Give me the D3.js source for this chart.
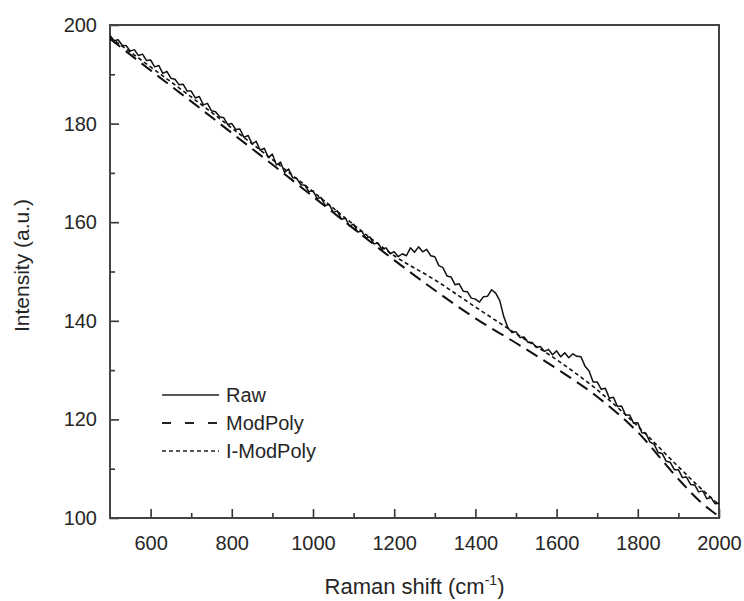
<!DOCTYPE html>
<html>
<head>
<meta charset="utf-8">
<script src="https://cdn.jsdelivr.net/npm/d3@7"></script>
<style>
  body { margin: 0; background: #fff; }
  svg { display: block; font-family: "Liberation Sans", Arial, sans-serif; }
  .tick text { fill: #262626; }
</style>
</head>
<body>
<div id="chart"></div>
<script>
// Raw spectrum, sampled every 10 cm-1 from 500 to 2000
const rawStart = 500, rawStep = 10;
const rawValues = [
  197.9, 196.8, 197.0, 195.9, 195.8, 194.7, 195.0, 193.8, 194.1, 192.8,
  192.9, 191.5, 191.8, 190.2, 190.6, 189.2, 189.0, 187.9, 188.0, 186.6,
  186.6, 185.2, 185.5, 183.8, 184.1, 182.6, 182.4, 181.4, 181.2, 179.8,
  180.0, 178.8, 178.9, 177.2, 177.6, 175.9, 176.4, 174.6, 175.0, 173.1,
  173.8, 171.6, 172.2, 170.1, 170.8, 169.0, 168.9, 167.6, 167.5, 166.2,
  166.4, 164.8, 165.0, 163.4, 163.6, 162.0, 162.3, 160.6, 160.8, 159.2,
  159.6, 158.0, 158.2, 156.8, 157.0, 155.6, 155.8, 154.5, 154.8, 153.6,
  154.0, 153.0, 153.6, 153.2, 154.8, 153.9, 155.0, 154.0, 154.5, 153.2,
  153.0, 151.2, 150.8, 149.1, 148.9, 147.3, 147.5, 146.0, 145.9, 144.6,
  144.4, 143.8, 144.9, 145.0, 146.3, 145.6, 144.1, 140.8, 138.6, 137.6,
  137.8, 136.6, 136.7, 135.6, 135.6, 134.6, 134.8, 133.8, 134.2, 133.1,
  133.9, 132.7, 133.5, 132.5, 133.3, 132.8, 132.7, 130.8, 129.8, 127.6,
  127.6, 126.1, 126.3, 124.3, 124.5, 122.6, 122.7, 120.9, 120.9, 119.2,
  119.3, 117.3, 117.2, 115.4, 115.0, 113.3, 113.1, 111.5, 111.3, 109.8,
  109.8, 108.2, 108.3, 106.8, 106.7, 105.3, 105.5, 103.9, 104.2, 102.9,
  103.0
];

// fitted baselines
const baseShift = [500, 600, 700, 800, 900, 1000, 1100, 1200, 1300, 1400, 1500, 1600, 1700, 1800, 1900, 1950, 2000];
const modPoly   = [197.2, 190.8, 184.5, 178.1, 171.7, 165.2, 158.7, 152.3, 146.2, 140.5, 135.5, 130.3, 124.6, 117.4, 107.9, 103.6, 100.3];
const iModPoly  = [197.5, 191.5, 185.4, 179.1, 172.7, 166.2, 159.5, 153.2, 148.3, 142.8, 137.4, 132.1, 126.0, 118.6, 110.4, 106.4, 102.7];

const xTicks = [600, 800, 1000, 1200, 1400, 1600, 1800, 2000];
const yTicks = [100, 120, 140, 160, 180, 200];

const width = 744, height = 601;
const margin = {top: 25, right: 25, bottom: 83, left: 110};
const plotW = width - margin.left - margin.right;
const plotH = height - margin.top - margin.bottom;

const svg = d3.select("#chart").append("svg")
    .attr("width", width)
    .attr("height", height);

const x = d3.scaleLinear().domain([500, 2000]).range([0, plotW]);
const y = d3.scaleLinear().domain([100, 200]).range([plotH, 0]);

const g = svg.append("g").attr("transform", "translate(" + margin.left + "," + margin.top + ")");

g.append("clipPath").attr("id", "clip")
  .append("rect").attr("width", plotW).attr("height", plotH);

// minor ticks (inside)
const xMinor = d3.axisBottom(x).tickValues([700, 900, 1100, 1300, 1500, 1700, 1900])
    .tickSize(-5).tickFormat("");
const yMinor = d3.axisLeft(y).tickValues([110, 130, 150, 170, 190]).tickSize(-5).tickFormat("");
g.append("g").attr("transform", "translate(0," + plotH + ")").call(xMinor);
g.append("g").call(yMinor);

const xAxis = d3.axisBottom(x).tickValues(xTicks).tickSize(-9).tickPadding(18).tickFormat(d3.format("d"));
const yAxis = d3.axisLeft(y).tickValues(yTicks).tickSize(-9).tickPadding(13).tickFormat(d3.format("d"));
const gx = g.append("g").attr("transform", "translate(0," + plotH + ")").call(xAxis);
const gy = g.append("g").call(yAxis);
[gx, gy].forEach(a => {
  a.selectAll("text").attr("font-size", 20).attr("font-family", "Liberation Sans, Arial, sans-serif");
});
g.selectAll(".domain").remove();
g.selectAll(".tick line").attr("stroke", "#333").attr("stroke-width", 1.6);

// frame
g.append("rect")
    .attr("width", plotW).attr("height", plotH)
    .attr("fill", "none").attr("stroke", "#444").attr("stroke-width", 2);

const rawData = rawValues.map((v, i) => ({s: rawStart + i * rawStep, v: v}));
const line = d3.line().x(d => x(d.s)).y(d => y(d.v));
const baseLine = d3.line().x(d => x(d.s)).y(d => y(d.v)).curve(d3.curveMonotoneX);

const curves = g.append("g").attr("clip-path", "url(#clip)");
curves.append("path").datum(baseShift.map((s, i) => ({s: s, v: modPoly[i]})))
    .attr("d", baseLine).attr("fill", "none").attr("stroke", "#111")
    .attr("stroke-width", 2).attr("stroke-dasharray", "13,7");
curves.append("path").datum(baseShift.map((s, i) => ({s: s, v: iModPoly[i]})))
    .attr("d", baseLine).attr("fill", "none").attr("stroke", "#111")
    .attr("stroke-width", 1.6).attr("stroke-dasharray", "4,3");
curves.append("path").datum(rawData)
    .attr("d", line).attr("fill", "none").attr("stroke", "#111")
    .attr("stroke-width", 1.5).attr("stroke-linejoin", "round");

// legend
const legendItems = [
  {label: "Raw", dash: null, w: 1.4},
  {label: "ModPoly", dash: "9,14", w: 2},
  {label: "I-ModPoly", dash: "4,3", w: 1.6}
];
const leg = svg.append("g").attr("transform", "translate(162,395)");
legendItems.forEach((d, i) => {
  const row = leg.append("g").attr("transform", "translate(0," + (i * 28) + ")");
  row.append("line").attr("x1", 0).attr("x2", 57).attr("y1", 0).attr("y2", 0)
      .attr("stroke", "#222").attr("stroke-width", d.w)
      .attr("stroke-dasharray", d.dash);
  row.append("text").attr("x", 64).attr("y", 7)
      .attr("font-size", 20).attr("fill", "#262626").text(d.label);
});

// axis titles
const xt = svg.append("text")
    .attr("x", margin.left + plotW / 2).attr("y", 594)
    .attr("text-anchor", "middle").attr("font-size", 22).attr("fill", "#262626");
xt.append("tspan").text("Raman shift (cm");
xt.append("tspan").attr("font-size", 14).attr("dy", -9).text("-1");
xt.append("tspan").attr("dy", 9).text(")");

svg.append("text")
    .attr("transform", "translate(29," + (margin.top + plotH / 2 - 6) + ") rotate(-90)")
    .attr("text-anchor", "middle").attr("font-size", 21).attr("fill", "#262626")
    .text("Intensity (a.u.)");
</script>
</body>
</html>
